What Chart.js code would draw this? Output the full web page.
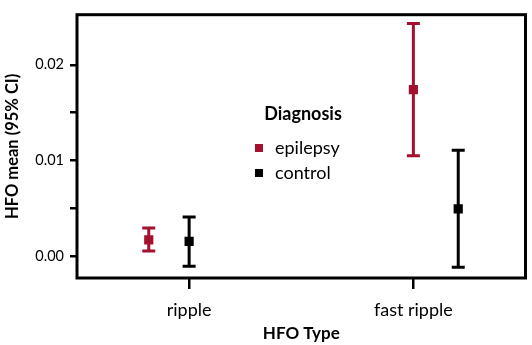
<!DOCTYPE html>
<html>
<head>
<meta charset="utf-8">
<script src="https://cdn.jsdelivr.net/npm/chart.js@4.4.0/dist/chart.umd.min.js"></script>
<style>
  html, body { margin: 0; padding: 0; background: #fff; }
</style>
</head>
<body>
<canvas id="chart" width="532" height="345"></canvas>
<script>
// categories and values
const categories = ['ripple', 'fast ripple'];
const seriesNames = ['epilepsy', 'control'];

const epilepsyMean = [0.00174, 0.0174];
const epilepsyLow = [0.00058, 0.0105];
const epilepsyHigh = [0.00297, 0.0243];

const controlMean = [0.00157, 0.00496];
const controlLow = [-0.00101, -0.00111];
const controlHigh = [0.00413, 0.01109];

// horizontal dodge of each series inside its category
const epilepsyDodge = [-0.18, 0];
const controlDodge = [0, 0.2];

const yTicks = [0, 0.005, 0.01, 0.015, 0.02];
const yLabelled = [0, 0.01, 0.02];

const RED = '#a3112f';
const FONT = 'Lato, "Open Sans", sans-serif';

const points = (mean, low, high, dodge) =>
    mean.map((m, i) => ({ x: i + dodge[i], y: m, low: low[i], high: high[i] }));

// whiskers with caps, drawn under the square markers
const errorBars = {
    id: 'errorBars',
    beforeDatasetsDraw(chart) {
        const { ctx, scales: { x, y } } = chart;
        chart.data.datasets.forEach(ds => {
            ds.data.forEach(p => {
                const px = x.getPixelForValue(p.x);
                const top = y.getPixelForValue(p.high);
                const bot = y.getPixelForValue(p.low);
                ctx.save();
                ctx.strokeStyle = ds.borderColor;
                ctx.lineWidth = 3;
                ctx.beginPath();
                ctx.moveTo(px, top); ctx.lineTo(px, bot);
                ctx.moveTo(px - 6.5, top); ctx.lineTo(px + 6.5, top);
                ctx.moveTo(px - 6.5, bot); ctx.lineTo(px + 6.5, bot);
                ctx.stroke();
                ctx.restore();
            });
        });
    }
};

// box round the plot area
const frame = {
    id: 'frame',
    afterDraw(chart) {
        const { ctx, chartArea: a } = chart;
        ctx.save();
        ctx.strokeStyle = '#000';
        ctx.lineWidth = 3;
        ctx.strokeRect(a.left, a.top, a.right - a.left, a.bottom - a.top);
        ctx.restore();
    }
};

// legend inside the plot
const diagLegend = {
    id: 'diagLegend',
    afterDraw(chart) {
        const { ctx } = chart;
        ctx.save();
        ctx.fillStyle = '#000';
        ctx.textBaseline = 'middle';
        ctx.textAlign = 'center';
        ctx.font = 'bold 18px ' + FONT;
        ctx.fillText('Diagnosis', 303, 114);
        ctx.textAlign = 'left';
        ctx.font = '18px ' + FONT;
        chart.data.datasets.forEach((ds, i) => {
            const cy = 148 + i * 25;
            ctx.fillStyle = ds.backgroundColor;
            ctx.fillRect(255, cy - 4, 8, 8);
            ctx.fillStyle = '#000';
            ctx.fillText(ds.label, 275, cy);
        });
        ctx.restore();
    }
};

new Chart(document.getElementById('chart'), {
    type: 'scatter',
    data: {
        datasets: [
            {
                label: seriesNames[0],
                data: points(epilepsyMean, epilepsyLow, epilepsyHigh, epilepsyDodge),
                backgroundColor: RED,
                borderColor: RED,
                pointStyle: 'rect',
                pointRadius: 6.5,
                pointBorderWidth: 0
            },
            {
                label: seriesNames[1],
                data: points(controlMean, controlLow, controlHigh, controlDodge),
                backgroundColor: '#000',
                borderColor: '#000',
                pointStyle: 'rect',
                pointRadius: 6.5,
                pointBorderWidth: 0
            }
        ]
    },
    options: {
        responsive: false,
        animation: false,
        events: [],
        layout: { padding: { top: 3, right: 4, left: 0, bottom: 0 } },
        plugins: {
            legend: { display: false },
            tooltip: { enabled: false }
        },
        scales: {
            x: {
                type: 'linear',
                min: -0.5,
                max: 1.5,
                afterBuildTicks: axis => { axis.ticks = categories.map((c, i) => ({ value: i })); },
                afterFit: axis => { axis.height = 67; },
                border: { display: false },
                grid: { drawOnChartArea: false, color: '#000', lineWidth: 2.5, tickLength: 11 },
                ticks: {
                    color: '#000',
                    font: { family: FONT, size: 18 },
                    padding: 10,
                    maxRotation: 0,
                    callback: v => categories[v]
                },
                title: {
                    display: true,
                    text: 'HFO Type',
                    color: '#000',
                    font: { family: FONT, size: 17, weight: 'bold' },
                    padding: { top: 2, bottom: 1 }
                }
            },
            y: {
                min: -0.00224,
                max: 0.02522,
                afterBuildTicks: axis => { axis.ticks = yTicks.map(v => ({ value: v })); },
                afterFit: axis => { axis.width = 77; },
                border: { display: false },
                grid: { drawOnChartArea: false, color: '#000', lineWidth: 2.5, tickLength: 7 },
                ticks: {
                    color: '#000',
                    font: { family: FONT, size: 14.5 },
                    padding: 6,
                    callback: v => yLabelled.includes(v) ? v.toFixed(2) : ''
                },
                title: {
                    display: true,
                    text: 'HFO mean (95% CI)',
                    color: '#000',
                    font: { family: FONT, size: 16.5, weight: 'bold' },
                    padding: { top: 3, bottom: 2 }
                }
            }
        }
    },
    plugins: [errorBars, frame, diagLegend]
});
</script>
</body>
</html>
